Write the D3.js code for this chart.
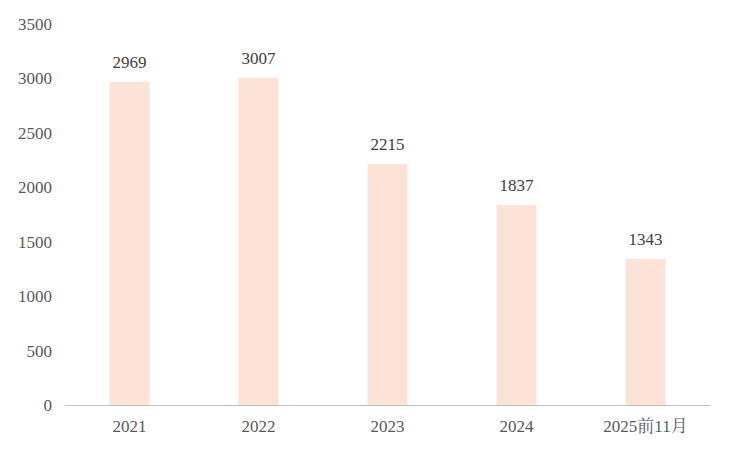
<!DOCTYPE html>
<html>
<head>
<meta charset="utf-8">
<script src="https://cdn.jsdelivr.net/npm/d3@7"></script>
<style>
body { margin: 0; background: #fff; }
text { font-family: "Liberation Serif", "Noto Serif CJK SC", "Noto Sans CJK SC", serif; }
</style>
</head>
<body>
<svg width="735" height="454"></svg>
<script>
const categories = ['2021', '2022', '2023', '2024', '2025前11月'];
const values = [2969, 3007, 2215, 1837, 1343];
const yTicks = [0, 500, 1000, 1500, 2000, 2500, 3000, 3500];

const svg = d3.select('svg');
const plotLeft = 65, plotRight = 710, plotTop = 24, plotBottom = 405;

const x = d3.scaleBand().domain(categories).range([plotLeft, plotRight]).paddingInner(0.69).paddingOuter(0.345);
const y = d3.scaleLinear().domain([0, 3500]).range([plotBottom, plotTop]);

// y tick labels, no axis line
svg.append('g')
    .selectAll('text')
    .data(yTicks)
    .enter()
    .append('text')
    .attr('x', 52)
    .attr('y', d => y(d) + 6)
    .attr('text-anchor', 'end')
    .attr('font-size', 17)
    .attr('fill', '#595959')
    .text(d => d);

svg.selectAll('rect')
    .data(values)
    .enter()
    .append('rect')
    .attr('x', (d, i) => x(categories[i]))
    .attr('y', d => y(d))
    .attr('width', x.bandwidth())
    .attr('height', d => plotBottom - y(d))
    .attr('fill', '#fbe4d7');

// value labels
svg.append('g')
    .selectAll('text')
    .data(values)
    .enter()
    .append('text')
    .attr('x', (d, i) => x(categories[i]) + x.bandwidth() / 2)
    .attr('y', d => y(d) - 14)
    .attr('text-anchor', 'middle')
    .attr('font-size', 17)
    .attr('fill', '#404040')
    .text(d => d);

svg.append('line')
    .attr('x1', plotLeft).attr('x2', plotRight)
    .attr('y1', plotBottom + 0.5).attr('y2', plotBottom + 0.5)
    .attr('stroke', '#bfbfbf');

svg.append('g')
    .selectAll('text')
    .data(categories)
    .enter()
    .append('text')
    .attr('x', d => x(d) + x.bandwidth() / 2)
    .attr('y', 432)
    .attr('text-anchor', 'middle')
    .attr('font-size', 17)
    .attr('fill', '#595959')
    .text(d => d);
</script>
</body>
</html>
